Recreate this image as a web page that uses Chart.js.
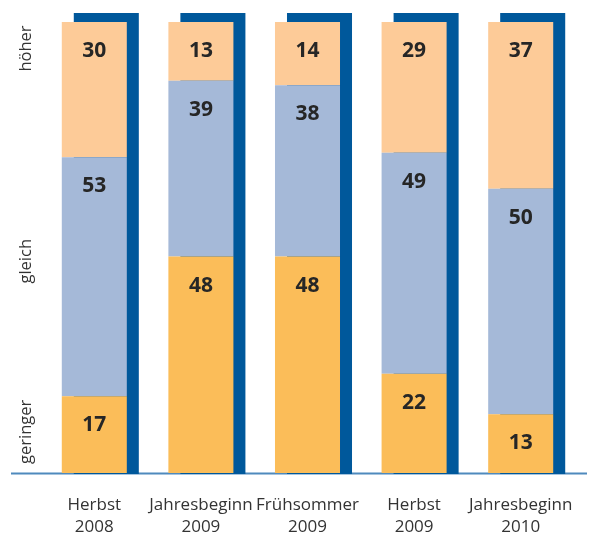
<!DOCTYPE html>
<html>
<head>
<meta charset="utf-8">
<script src="https://cdn.jsdelivr.net/npm/chart.js@4/dist/chart.umd.min.js"></script>
<style>
  html, body { margin: 0; padding: 0; background: #fff; }
  #wrap { width: 594px; height: 536px; position: relative; }
</style>
</head>
<body>
<div id="wrap"><canvas id="c" width="594" height="536"></canvas></div>
<script>
// ---- data ----
const categories = [["Herbst", "2008"], ["Jahresbeginn", "2009"], ["Frühsommer", "2009"], ["Herbst", "2009"], ["Jahresbeginn", "2010"]];
const geringer = [17, 48, 48, 22, 13];
const gleich   = [53, 39, 38, 49, 50];
const hoeher   = [30, 13, 14, 29, 37];
const yTickLabels = ["geringer", "gleich", "höher"];
const yTickValues = [2, 42, 89];

const shadowPlugin = {
  id: 'shadowAndBase',
  beforeDatasetsDraw(chart) {
    const ctx = chart.ctx;
    const ys = chart.scales.y;
    const area = chart.chartArea;
    const y0 = ys.getPixelForValue(0);
    const y100 = ys.getPixelForValue(100);
    // baseline
    ctx.save();
    ctx.strokeStyle = '#4f8abd';
    ctx.lineWidth = 2;
    ctx.beginPath();
    ctx.moveTo(area.left - 30, y0 + 0.5);
    ctx.lineTo(area.right + 13, y0 + 0.5);
    ctx.stroke();
    // shadow bars
    const meta = chart.getDatasetMeta(chart.data.datasets.length - 1);
    ctx.fillStyle = '#00589b';
    meta.data.forEach(el => {
      const w = el.width;
      ctx.fillRect(el.x - w / 2 + 12, y100 - 9, w, y0 - y100 + 10);
    });
    ctx.restore();
  },
  afterDatasetsDraw(chart) {
    const ctx = chart.ctx;
    const ys = chart.scales.y;
    ctx.save();
    ctx.font = 'bold 21px "Open Sans", "Noto Sans", sans-serif';
    ctx.fillStyle = '#262626';
    ctx.textAlign = 'center';
    ctx.textBaseline = 'middle';
    chart.data.datasets.forEach((ds, i) => {
      const meta = chart.getDatasetMeta(i);
      meta.data.forEach((el, j) => {
        ctx.fillText(String(ds.data[j]), el.x, el.y + 29);
      });
    });
    ctx.restore();
    // rotated category labels along the value axis
    ctx.save();
    ctx.font = '16.5px "Open Sans", "Noto Sans", sans-serif';
    ctx.fillStyle = '#333';
    ctx.textAlign = 'left';
    ctx.textBaseline = 'middle';
    yTickValues.forEach((v, i) => {
      ctx.save();
      ctx.translate(26, ys.getPixelForValue(v));
      ctx.rotate(-Math.PI / 2);
      ctx.fillText(yTickLabels[i], 0, 0);
      ctx.restore();
    });
    ctx.restore();
  }
};

new Chart(document.getElementById('c'), {
  type: 'bar',
  data: {
    labels: categories,
    datasets: [
      { label: 'geringer', data: geringer, backgroundColor: '#fbbd59' },
      { label: 'gleich', data: gleich, backgroundColor: '#a5b9d8' },
      { label: 'höher', data: hoeher, backgroundColor: '#fdcb98' }
    ]
  },
  options: {
    responsive: false,
    animation: false,
    devicePixelRatio: 1,
    layout: { padding: { left: 41, right: 20, top: 22, bottom: 0 } },
    datasets: { bar: { barPercentage: 0.61, categoryPercentage: 1, borderWidth: 0 } },
    plugins: { legend: { display: false }, tooltip: { enabled: false } },
    scales: {
      x: {
        stacked: true,
        grid: { display: false, drawTicks: false },
        border: { display: false },
        afterFit(s) { s.height = 63; s.paddingLeft = 0; s.paddingRight = 0; },
        ticks: {
          padding: 22,
          color: '#333',
          font: { family: '"Open Sans", "Noto Sans", sans-serif', size: 17, lineHeight: 1.25 },
          maxRotation: 0, minRotation: 0, autoSkip: false
        }
      },
      y: {
        stacked: true,
        display: false,
        min: 0, max: 100
      }
    }
  },
  plugins: [shadowPlugin]
});
</script>
</body>
</html>
